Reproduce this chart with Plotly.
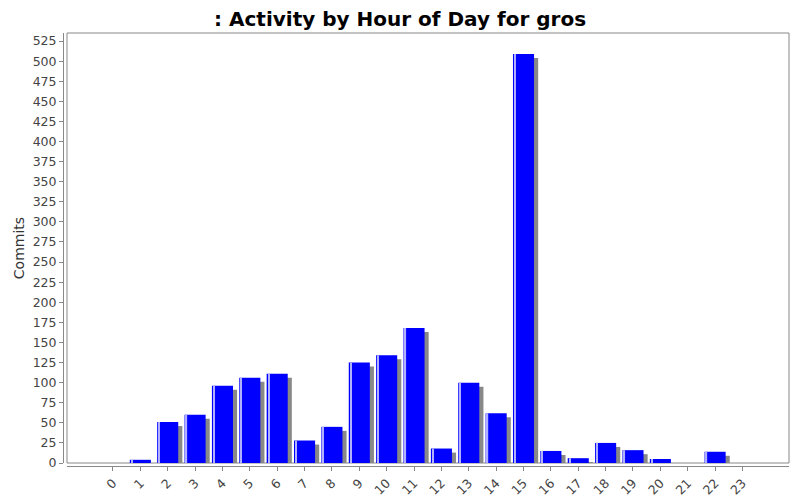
import plotly.graph_objects as go

# commits per hour of day
hours = list(range(24))
commits = [0, 4, 51, 60, 96, 106, 111, 28, 45, 125, 134, 168,
           18, 100, 62, 509, 15, 6, 25, 16, 5, 0, 14, 0]
hour_labels = [str(h) for h in hours]

bar_w = 0.77
shadow_dx = 0.15
shadow_dy = 5

fig = go.Figure()

# drop shadow
fig.add_trace(go.Bar(
    x=hours, y=[max(c - shadow_dy, 0) if c else 0 for c in commits],
    width=bar_w, offset=-bar_w / 2 + shadow_dx,
    marker=dict(color="#888888", line=dict(width=0)),
    hoverinfo="skip", showlegend=False))

# main bars
fig.add_trace(go.Bar(
    x=hours, y=commits, width=bar_w, offset=-bar_w / 2,
    marker=dict(color="#0000ff", line=dict(width=0)),
    showlegend=False))

# light stripe on left edge
fig.add_trace(go.Bar(
    x=hours, y=commits, width=0.045, offset=-bar_w / 2 + 0.05,
    marker=dict(color="#b0b0ff", line=dict(width=0)),
    hoverinfo="skip", showlegend=False))

# page body has an 8px margin, so the figure is 8px smaller than the window
fig.update_layout(
    width=792, height=492,
    barmode="overlay",
    plot_bgcolor="white", paper_bgcolor="white",
    margin=dict(l=55, r=11, t=25, b=34, autoexpand=False),
    font=dict(family="DejaVu Sans", size=12.5, color="#444444"),
    title=dict(text="<b>: Activity by Hour of Day for gros</b>",
               x=0.495, xanchor="center", y=0.978, yanchor="middle",
               font=dict(family="DejaVu Sans", size=20, color="black")),
    xaxis=dict(domain=[0.0055, 1], range=[-1.68, 24.7], automargin=False,
               tickmode="array", tickvals=hours, ticktext=hour_labels,
               tickangle=-45, ticks="outside", ticklen=4, tickcolor="#888888",
               showline=True, linecolor="#888888", linewidth=1,
               anchor="free", position=0, showgrid=False, zeroline=False),
    yaxis=dict(domain=[0.0069, 1], range=[0, 535], dtick=25, tick0=0,
               automargin=False,
               ticks="outside", ticklen=4, tickcolor="#888888",
               showline=True, linecolor="#888888", linewidth=1,
               anchor="free", position=0, showgrid=False, zeroline=False,
               title=dict(text="Commits", font=dict(size=14, color="#333333"),
                          standoff=3)),
    shapes=[dict(type="rect", xref="x domain", yref="y domain",
                 x0=0, x1=1, y0=0, y1=1,
                 line=dict(color="#888888", width=1), layer="below")],
)

fig.write_html("out.html")
